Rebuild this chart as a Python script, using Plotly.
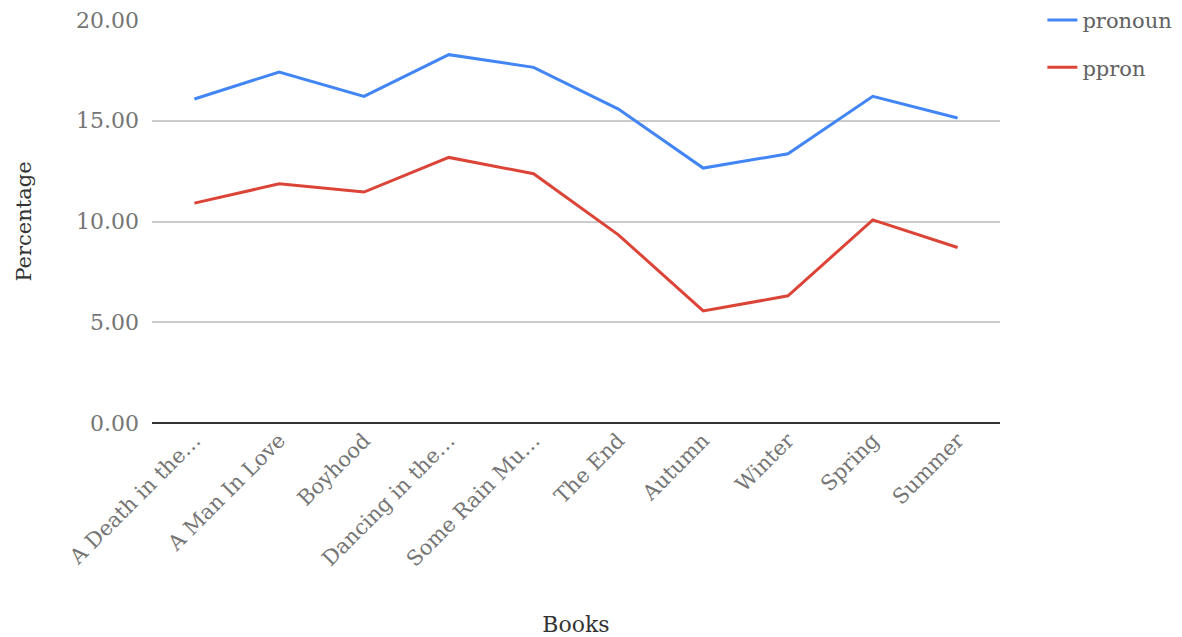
import plotly.graph_objects as go

books = ["A Death in the…", "A Man In Love", "Boyhood", "Dancing in the…",
         "Some Rain Mu…", "The End", "Autumn", "Winter", "Spring", "Summer"]
pronoun = [16.08, 17.42, 16.21, 18.28, 17.65, 15.58, 12.65, 13.36, 16.21, 15.14]
ppron = [10.91, 11.87, 11.46, 13.18, 12.37, 9.34, 5.56, 6.31, 10.08, 8.71]

FONT = "Georgia, 'DejaVu Serif', serif"

fig = go.Figure()
fig.add_trace(go.Scatter(x=books, y=pronoun, name="pronoun", mode="lines",
                         legendgroup="pronoun",
                         line=dict(color="#4285F4", width=3)))
fig.add_trace(go.Scatter(x=books, y=ppron, name="ppron", mode="lines",
                         legendgroup="ppron",
                         line=dict(color="#DB4437", width=3)))

fig.update_layout(
    width=1182, height=637,
    margin=dict(l=152, r=182, t=20, b=214, autoexpand=False),
    paper_bgcolor="white", plot_bgcolor="white",
    font=dict(family=FONT, size=21, color="#757575"),
    legend=dict(x=1.05, y=1.05, xanchor="left", yanchor="top",
                font=dict(size=21, color="#616161"), itemwidth=30,
                tracegroupgap=17),
    xaxis=dict(type="category", range=[-0.5, 9.5], showgrid=False,
               automargin=False,
               tickangle=-45, tickfont=dict(size=21, color="#757575"),
               title=dict(text="Books", font=dict(size=22, color="#333333"),
                          standoff=46)),
    yaxis=dict(range=[0, 20], dtick=5, tickformat=".2f", showgrid=True,
               automargin=False,
               gridcolor="#cccccc", gridwidth=1.5, zeroline=True,
               zerolinecolor="#333333", zerolinewidth=2,
               tickfont=dict(size=22, color="#757575"), ticklabelstandoff=12,
               title=dict(text="Percentage", font=dict(size=21, color="#333333"),
                          standoff=38)),
)

fig.write_html("out.html")
